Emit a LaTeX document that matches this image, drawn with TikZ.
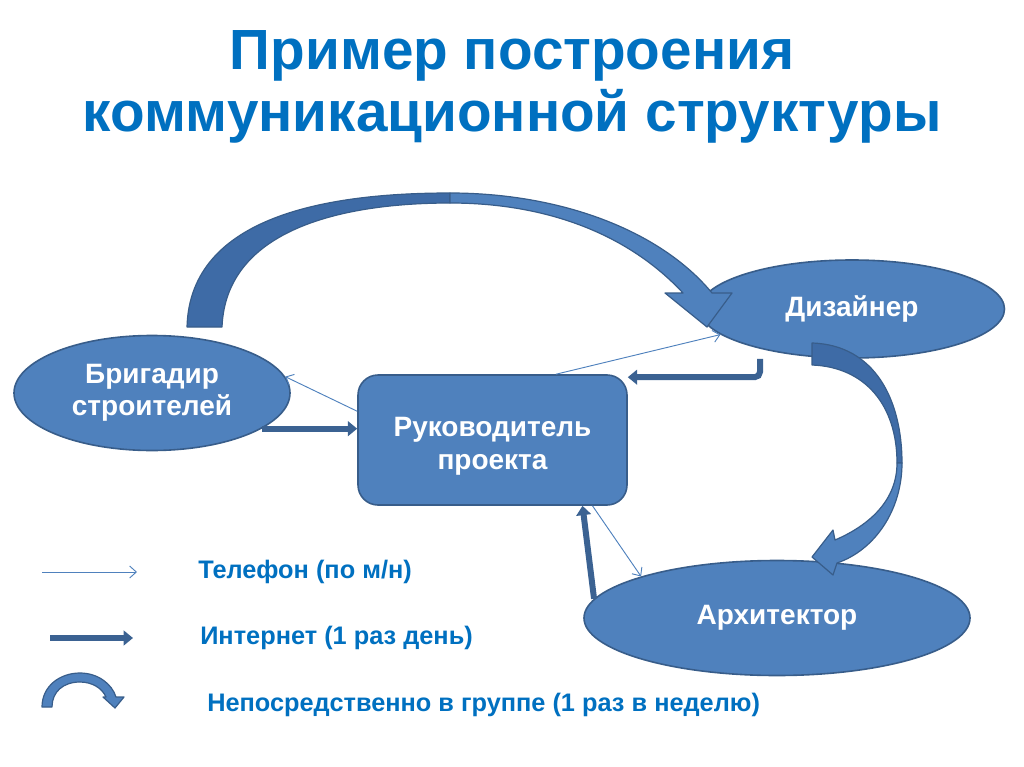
\documentclass[tikz,border=0pt]{standalone}
\usepackage{fontspec}
\setmainfont{Liberation Sans}
\usetikzlibrary{shapes.geometric,arrows.meta}
\definecolor{nodeBlue}{HTML}{4F81BD}
\definecolor{nodeEdge}{HTML}{385D8A}
\definecolor{ribbonDark}{HTML}{3E6BA6}
\definecolor{textBlue}{HTML}{0070C0}
\def\px{0.75pt}
\tikzset{
  ellipseNode/.style={
    ellipse,
    draw=nodeEdge,
    fill=nodeBlue,
    line width=1.2pt,
    text=white,
    font=\bfseries\fontsize{21}{24}\selectfont,
    align=center,
    inner sep=0pt
  },
  boxNode/.style={
    rectangle,
    rounded corners=15pt,
    draw=nodeEdge,
    fill=nodeBlue,
    line width=1.2pt,
    text=white,
    font=\bfseries\fontsize{21}{25}\selectfont,
    align=center,
    minimum width=269*\px,
    minimum height=130*\px
  },
  phoneArrow/.style={
    draw=nodeBlue,
    line width=0.7pt,
    -{Straight Barb[length=5pt,width=9pt]}
  },
  netArrow/.style={
    draw=nodeEdge!85!nodeBlue,
    line width=4.5pt,
    -{Triangle[length=7pt,width=11pt]}
  },
  ribbonLight/.style={fill=nodeBlue,draw=nodeEdge,line width=0.9pt,line join=round},
  ribbonBack/.style={fill=ribbonDark,draw=nodeEdge,line width=0.9pt,line join=round},
  titleText/.style={
    text=textBlue,
    font=\bfseries\fontsize{42.5}{47}\selectfont,
    align=center
  },
  legendText/.style={
    text=textBlue,
    font=\bfseries\fontsize{19}{22}\selectfont,
    anchor=west,
    inner sep=0pt
  }
}

\begin{document}
\begin{tikzpicture}[x=\px,y=-\px]
  \useasboundingbox (0,0) rectangle (1024,767);

  \node[titleText] (title) at (512,87) {Пример построения\\коммуникационной структуры};

  % participants
  \node[ellipseNode,minimum width=276*\px,minimum height=115*\px] (brig) at (152,393) {Бригадир\\строителей};
  \node[ellipseNode,minimum width=305*\px,minimum height=98*\px] (des) at (852,309) {Дизайнер};
  \node[ellipseNode,minimum width=386*\px,minimum height=115*\px] (arch) at (777,618) {Архитектор};
  \node[boxNode] (ruk) at (492.5,440) {\rule{0pt}{24pt}Руководитель\\проекта};

  % telephone
  \draw[phoneArrow] (ruk.46) -- (des.191);
  \draw[phoneArrow] (ruk.168) -- (brig.7);
  \draw[phoneArrow] ([xshift=100*\px]ruk.south) -- (arch.163);

  % internet
  \draw[netArrow] (brig.-18) -- (brig.-18 -| ruk.west);
  \draw[netArrow,rounded corners=4pt] ([xshift=-92*\px]des.south) |- ([yshift=-3*\px]ruk.north east);
  \draw[netArrow] (arch.174) -- ([xshift=90*\px]ruk.south);

  % in the group
  \path[ribbonBack] (187,327) .. controls (190,215) and (330,193) .. (450,193)
    -- (450,203) .. controls (345,203) and (226,228) .. (222,327) -- cycle;
  \path[ribbonLight] (450,193) .. controls (560,193) and (660,230) .. (712,293)
    -- (732,293) -- (707,327) -- (665,293) -- (683,293)
    .. controls (630,236) and (550,203) .. (450,203) -- cycle;
  \path[ribbonBack] (812,343) .. controls (875,345) and (902,400) .. (902,463)
    -- (897,463) .. controls (897,405) and (865,367) .. (812,365) -- cycle;
  \path[ribbonLight] (902,463) .. controls (902,510) and (875,550) .. (837,563)
    -- (833,575) -- (812,557) -- (833,530) -- (835,540)
    .. controls (870,525) and (897,500) .. (897,463) -- cycle;

  % legend
  \coordinate (telA) at (42,572);
  \coordinate (telB) at (137,572);
  \coordinate (netA) at (50,638);
  \coordinate (netB) at (133,638);
  \draw[phoneArrow] (telA) -- (telB);
  \draw[netArrow] (netA) -- (netB);
  \path[ribbonLight] (42,707) .. controls (42,686) and (60,673) .. (80,673)
    .. controls (98,673) and (112,684) .. (116,697) -- (124,697) -- (115,708)
    -- (103,697) -- (106,697) .. controls (102,688) and (92,682) .. (80,682)
    .. controls (63,682) and (52,692) .. (52,707) -- cycle;
  \node[legendText] (telText) at (198,572) {Телефон (по м/н)};
  \node[legendText] (netText) at (200,638) {Интернет (1 раз день)};
  \node[legendText] (grpText) at (207,705) {Непосредственно в группе (1 раз в неделю)};
\end{tikzpicture}
\end{document}
